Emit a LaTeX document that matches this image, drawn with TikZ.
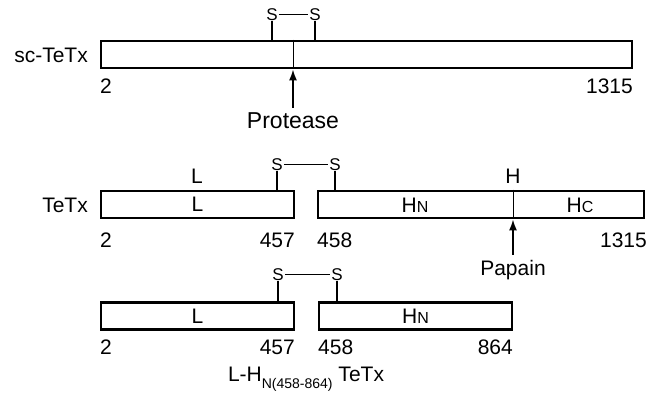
\documentclass[tikz,border=0pt]{standalone}
\usepackage{fontspec}
\setmainfont{Liberation Sans}
\usetikzlibrary{arrows.meta}

\newcommand{\smcap}[1]{{\fontsize{16}{16}\selectfont #1}}

\begin{document}
\begin{tikzpicture}[
  x=1pt, y=-1pt,
  font=\fontsize{21}{24}\selectfont,
  bar/.style={rectangle, draw=black, line width=2.8pt, fill=white, minimum height=27pt, inner sep=0pt},
  lbl/.style={inner sep=0pt, anchor=base},
  lbll/.style={inner sep=0pt, anchor=base west},
  lblr/.style={inner sep=0pt, anchor=base east},
  sulf/.style={inner sep=1pt, anchor=base, font=\fontsize{17}{17}\selectfont},
  tick/.style={line width=1.5pt},
  bond/.style={line width=1.3pt},
  cut/.style={line width=1pt},
  arr/.style={-{Latex[length=11pt,width=8pt]}, line width=1.7pt}
]
\useasboundingbox (0,0) rectangle (649,394);
% single chain
\node[bar, minimum width=531pt] (sc) at (366.5,54.5) {};
\node[lblr] (scname) at (88,62) {sc-TeTx};
\node[lbll] (sc2) at (100,93) {2};
\node[lblr] (sc1315) at (633,93) {1315};
\node[sulf] (scsa) at (272,20) {S};
\node[sulf] (scsb) at (315,20) {S};
\coordinate (prtx) at (293,0);
\node[lbl, font=\fontsize{23}{24}\selectfont] (prot) at (293,128) {Protease};
% two chain
\node[bar, minimum width=193pt] (tl) at (197.5,204.5) {L};
\node[bar, minimum width=326pt] (th) at (481,204.5) {};
\node[lbl] (thn) at (415,212) {H\smcap{N}};
\node[lbl] (thc) at (580,212) {H\smcap{C}};
\node[lblr] (tname) at (88,212) {TeTx};
\node[lbl] (ltop) at (197,183) {L};
\node[lbl] (htop) at (513,183) {H};
\node[sulf] (tsa) at (277,170) {S};
\node[sulf] (tsb) at (335,170) {S};
\node[lbll] (t2) at (100,247) {2};
\node[lblr] (t457) at (295,247) {457};
\node[lbll] (t458) at (317,247) {458};
\node[lblr] (t1315) at (647,247) {1315};
\coordinate (papx) at (513,0);
\node[lbl] (pap) at (513,275) {Papain};
% fragment
\node[bar, minimum width=193pt] (fl) at (197.5,316) {L};
\node[bar, minimum width=193pt] (fh) at (415.5,316) {H\smcap{N}};
\node[sulf] (fsa) at (278,280) {S};
\node[sulf] (fsb) at (337,280) {S};
\node[lbll] (f2) at (100,354) {2};
\node[lblr] (f457) at (295,354) {457};
\node[lbll] (f458) at (318,354) {458};
\node[lblr] (f864) at (513,354) {864};
\node[lbl] (fname) at (306,381) {L-H\raisebox{-7pt}{\fontsize{14}{14}\selectfont N(458-864)} TeTx};
% bonds and cuts
\draw[bond] (scsa) -- (scsb);
\draw[tick] (scsa.south) -- (scsa.south |- sc.north);
\draw[tick] (scsb.south) -- (scsb.south |- sc.north);
\draw[cut] (prtx |- sc.north) -- (prtx |- sc.south);
\draw[arr] ([yshift=4pt]prot.north) -- (prot.north |- sc.south);
\draw[bond] (tsa) -- (tsb);
\draw[tick] (tsa.south) -- (tsa.south |- tl.north);
\draw[tick] (tsb.south) -- (tsb.south |- th.north);
\draw[cut] (papx |- th.north) -- (papx |- th.south);
\draw[arr] ([yshift=5pt]pap.north) -- (pap.north |- th.south);
\draw[bond] (fsa) -- (fsb);
\draw[tick] (fsa.south) -- (fsa.south |- fl.north);
\draw[tick] (fsb.south) -- (fsb.south |- fh.north);
\end{tikzpicture}
\end{document}
